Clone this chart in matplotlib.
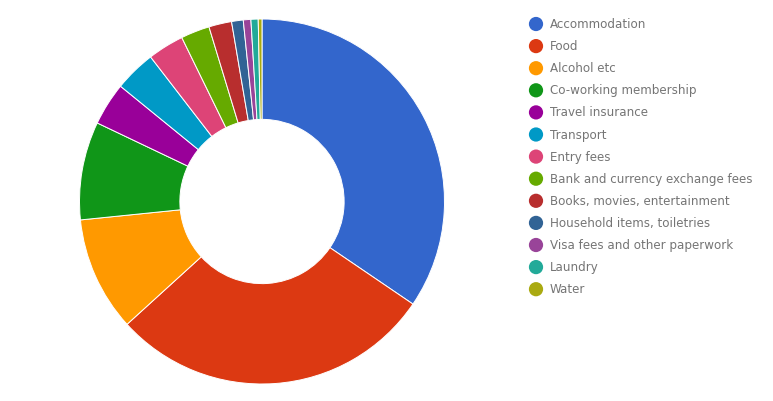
import matplotlib
matplotlib.use('Agg')
import matplotlib.pyplot as plt

categories = ["Accommodation", "Food", "Alcohol etc", "Co-working membership",
              "Travel insurance", "Transport", "Entry fees",
              "Bank and currency exchange fees", "Books, movies, entertainment",
              "Household items, toiletries", "Visa fees and other paperwork",
              "Laundry", "Water"]
shares = [34.5, 28.75, 10.14, 8.69, 3.8, 3.67, 3.21, 2.55, 2.02, 1.03, 0.67, 0.64, 0.33]
colors = ["#3366cc", "#dc3912", "#ff9900", "#109618", "#990099", "#0099c6",
          "#dd4477", "#66aa00", "#b82e2e", "#316395", "#994499", "#22aa99", "#aaaa11"]

W, H = 773, 401
fig = plt.figure(figsize=(W / 100, H / 100), dpi=100)

# pie: centre (262, 201.5) px, radius 182.5 px
cx, cy, r = 262, 201.5, 182.5
ax = fig.add_axes([(cx - r) / W, (H - cy - r) / H, 2 * r / W, 2 * r / H])
ax.pie(shares, colors=colors, startangle=90, counterclock=False, radius=1,
       wedgeprops=dict(width=0.55, edgecolor="white", linewidth=0.7))
ax.set_xlim(-1, 1)
ax.set_ylim(-1, 1)
ax.set_aspect("equal")
ax.axis("off")

# legend
lax = fig.add_axes([0, 0, 1, 1])
lax.set_xlim(0, W)
lax.set_ylim(H, 0)
lax.axis("off")
for i, (name, c) in enumerate(zip(categories, colors)):
    y = 24 + i * 22.1
    lax.scatter([536], [y], s=105, color=c, edgecolors="none")
    lax.text(550, y + 0.5, name, fontsize=8.6, color="#757575", va="center",
             ha="left", family="DejaVu Sans")

fig.savefig("out.png", dpi=100)
